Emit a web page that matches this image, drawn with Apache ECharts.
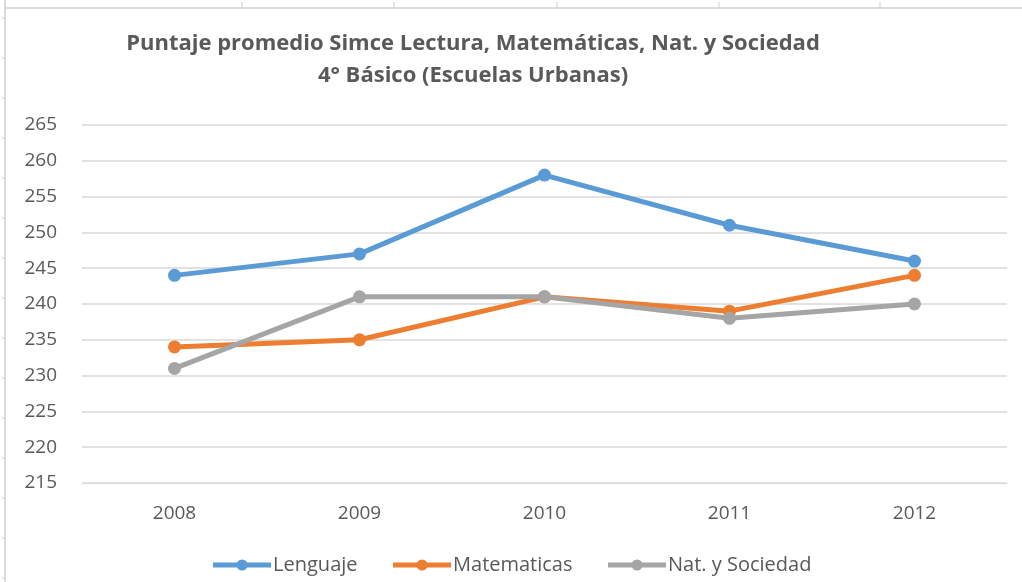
<!DOCTYPE html>
<html>
<head>
<meta charset="utf-8">
<script src="https://cdn.jsdelivr.net/npm/echarts@6/dist/echarts.min.js"></script>
<style>
  html, body { margin: 0; padding: 0; background: #fff; }
  #chart { width: 1022px; height: 582px; }
</style>
</head>
<body>
<div id="chart"></div>
<script>
/* Simce 4° básico, escuelas urbanas */
const years       = ['2008', '2009', '2010', '2011', '2012'];
const lenguaje    = [244, 247, 258, 251, 246];
const matematicas = [234, 235, 241, 239, 244];
const natSociedad = [231, 241, 241, 238, 240];

const FONT = '"Open Sans", Lato, sans-serif';
const TXT  = '#595959';

// fondo tipo hoja de cálculo (bordes de celda)
const sheetLines = [
  { type: 'line', shape: { x1: 6, y1: 8, x2: 1022, y2: 8 }, style: { stroke: '#dcdcdc', lineWidth: 2 } },
  { type: 'line', shape: { x1: 5, y1: 0, x2: 5, y2: 582 }, style: { stroke: '#dcdcdc', lineWidth: 2 } },
];
[242, 394, 557, 719, 880].forEach(x => sheetLines.push(
  { type: 'line', shape: { x1: x, y1: 2, x2: x, y2: 8 }, style: { stroke: '#cfcfcf', lineWidth: 1 } }));
for (let y = 18; y < 582; y += 40) sheetLines.push(
  { type: 'line', shape: { x1: 2, y1: y, x2: 5, y2: y }, style: { stroke: '#cfcfcf', lineWidth: 1 } });

const mkSeries = (name, data, color) => ({
  name, type: 'line', data,
  symbol: 'circle', symbolSize: 13,
  itemStyle: { color },
  lineStyle: { width: 5, color },
  emphasis: { disabled: true },
});

const chart = echarts.init(document.getElementById('chart'), null, { renderer: 'canvas' });
chart.setOption({
  animation: false,
  backgroundColor: '#fff',
  graphic: sheetLines,
  title: {
    text: 'Puntaje promedio Simce Lectura, Matemáticas, Nat. y Sociedad\n4° Básico (Escuelas Urbanas)',
    left: 468, top: 23, textAlign: 'center',
    textStyle: { fontFamily: FONT, fontSize: 22, fontWeight: 'bold', color: TXT, lineHeight: 32 },
  },
  legend: {
    bottom: 2, left: 'center',
    itemWidth: 58, itemHeight: 14, itemGap: 33,
    lineStyle: { width: 5 },
    textStyle: { fontFamily: FONT, fontSize: 20, color: TXT, padding: [0, 0, 0, -3] },
    data: ['Lenguaje', 'Matematicas', 'Nat. y Sociedad'],
  },
  grid: { left: 82, right: 15, top: 125, bottom: 99, containLabel: false },
  xAxis: {
    type: 'category', data: years, boundaryGap: true,
    axisLine: { show: true, lineStyle: { color: '#d9d9d9', width: 1 } },
    axisTick: { show: false },
    axisLabel: { fontFamily: FONT, fontSize: 19, color: TXT, margin: 21 },
  },
  yAxis: {
    type: 'value', min: 215, max: 265, interval: 5,
    axisLine: { show: false }, axisTick: { show: false },
    axisLabel: { fontFamily: FONT, fontSize: 19, color: TXT, margin: 25 },
    splitLine: { lineStyle: { color: '#d9d9d9', width: 1.5 } },
  },
  series: [
    mkSeries('Lenguaje', lenguaje, '#5b9bd5'),
    mkSeries('Matematicas', matematicas, '#ed7d31'),
    mkSeries('Nat. y Sociedad', natSociedad, '#a5a5a5'),
  ],
});
</script>
</body>
</html>
